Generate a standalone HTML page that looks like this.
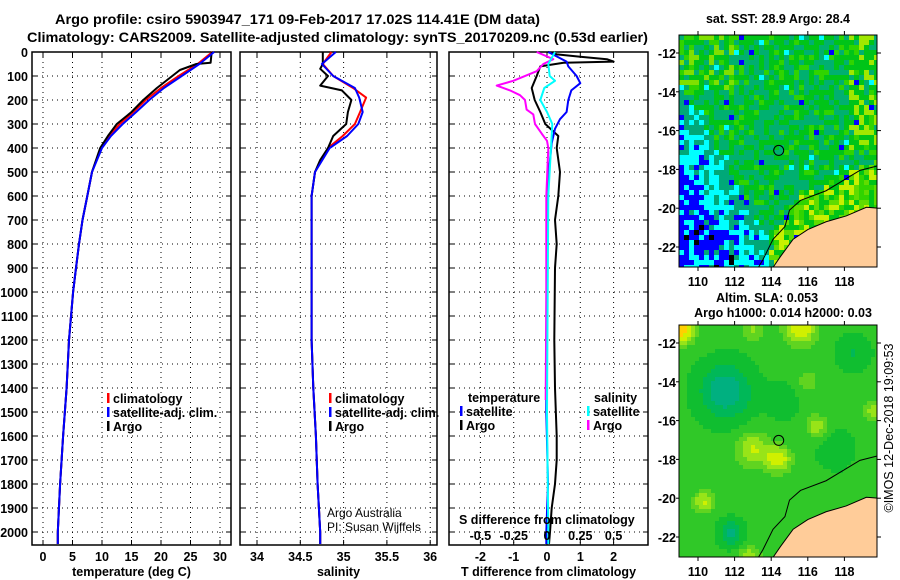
<!DOCTYPE html>
<html><head><meta charset="utf-8"><style>
html,body{margin:0;padding:0;background:#fff;}
svg{display:block;font-family:"Liberation Sans",Arial,sans-serif;}
.b{font-weight:bold;font-size:12.5px;fill:#000;}
</style></head><body>
<svg id="chart" width="900" height="580" viewBox="0 0 900 580" xmlns="http://www.w3.org/2000/svg">
<text x="55" y="24" class="b" style="font-size:14px" textLength="485" lengthAdjust="spacingAndGlyphs">Argo profile: csiro 5903947_171 09-Feb-2017 17.02S 114.41E (DM data)</text>
<text x="27" y="42" class="b" style="font-size:14px" textLength="621" lengthAdjust="spacingAndGlyphs">Climatology: CARS2009. Satellite-adjusted climatology: synTS_20170209.nc (0.53d earlier)</text>
<g id="maps"></g>
<g id="panels"></g>
</svg>
<script>
// ---------- data ----------
const depthArgoT = [0,20,45,50,75,150,200,250,300,350,400,500,600,700,800,900,1000,1200,1400,1600,1800,2000,2050];
const tempArgo   = [28.6,28.5,28.4,26,23.2,19.3,17,15,12.5,11,9.7,8.3,7.5,6.7,6.1,5.6,5.1,4.4,4.0,3.4,2.9,2.5,2.5];
const depthClimT = [0,50,100,150,200,250,300,350,400,500,600,700,800,900,1000,1200,1400,1600,1800,2000,2050];
const tempClim   = [28.7,26.2,23.0,20.0,17.4,15.3,13.0,11.2,9.8,8.3,7.5,6.7,6.1,5.6,5.1,4.4,4.0,3.4,2.9,2.5,2.5];
const tempSat    = [29.0,26.5,23.5,20.5,18.0,15.8,13.5,11.5,10.0,8.3,7.5,6.7,6.1,5.6,5.1,4.4,4.0,3.4,2.9,2.5,2.5];
const depthArgoS = [0,50,70,100,140,160,200,250,300,350,400,450,500,600,1200,1400,1600,1800,2000,2050];
const salArgo    = [34.76,34.76,34.73,34.82,34.73,34.98,35.09,35.05,35.03,34.88,34.82,34.73,34.67,34.63,34.63,34.65,34.68,34.70,34.73,34.73];
const depthClimS = [0,50,100,150,190,250,300,350,400,500,600,1200,1400,1600,1800,2000,2050];
const salClim    = [34.86,34.76,34.88,35.11,35.26,35.19,35.13,34.99,34.82,34.67,34.63,34.63,34.65,34.68,34.70,34.73,34.73];
const salSat     = [34.91,34.75,34.88,35.13,35.18,35.22,35.17,35.04,34.84,34.67,34.63,34.63,34.65,34.68,34.70,34.73,34.73];
const depthDT    = [0,10,20,30,40,45,60,100,150,200,250,300,350,400,500,600,700,800,900,1200,1400,1600,1700,1800,1900,2000,2050];
const dTArgo     = [0.03,0.3,1.0,1.8,2.0,0.5,-0.2,-0.31,-0.46,-0.37,-0.2,-0.05,0.34,0.29,0.39,0.34,0.24,0.29,0.24,0.22,0.24,0.29,0.29,0.24,0.14,0.09,0.06];
const depthDTs   = [0,40,60,100,130,160,200,250,280,320,380,450,500,600,1000,1500,1800,2000,2050];
const dTSat      = [0.04,0.59,0.64,0.89,1.0,0.73,0.64,0.59,0.39,0.24,0.14,0.09,0.04,0.01,0.0,-0.02,0.03,-0.02,-0.02];
const depthDS    = [0,30,50,80,120,140,160,180,200,240,260,300,340,370,400,600,1000,1450];
const dSArgo     = [-0.077,0.047,-0.028,-0.077,-0.253,-0.378,-0.278,-0.203,-0.165,-0.153,-0.103,-0.09,-0.04,0.0,0.01,-0.005,-0.005,-0.01];
const depthDSs   = [0,50,100,120,150,200,250,300,400,600,1000,1500,2000,2050];
const dSSat      = [0.06,0.01,0.02,0.06,-0.02,-0.05,0.0,0.04,0.03,0.01,0.005,0.0,0.01,0.01];
const depthTicks = [0,100,200,300,400,500,600,700,800,900,1000,1100,1200,1300,1400,1500,1600,1700,1800,1900,2000];
const tempTicks  = [0,5,10,15,20,25,30];
const salTicks   = [34,34.5,35,35.5,36];
const dTTicks    = [-2,-1,0,1,2];
const dSTicks    = [-0.5,-0.25,0,0.25,0.5];
const dSTickLabels = ['-0.5','-0.25','0','0.25','0.5'];
const lonTicks   = [110,112,114,116,118];
const latTicks   = [-12,-14,-16,-18,-20,-22];
const argoLon = 114.41, argoLat = -17.02;
const coastLon = [119.9,119.2,118.1,117.0,116.0,115.2,114.5,114.1,114.0];
const coastLat = [-20.0,-19.95,-20.4,-20.7,-21.1,-21.6,-22.5,-23.05,-23.2];
const isoLon = [119.9,118.85,117.0,115.6,115.0,114.75,114.1,113.55,113.3];
const isoLat = [-17.8,-18.05,-19.1,-19.6,-20.1,-20.95,-21.6,-22.65,-23.05];

// ---------- helpers ----------
const NS='http://www.w3.org/2000/svg';
function mk(tag,attrs,parent,text){const e=document.createElementNS(NS,tag);for(const k in attrs)e.setAttribute(k,attrs[k]);if(text!==undefined)e.textContent=text;parent.appendChild(e);return e;}
const panels=document.getElementById('panels');
const Y0=52, Y1=545;
const yD=d=>Y0+d*0.24;

function drawPanel(name,x0,x1,xs,ticks,labels,xtitle){
  const g=mk('g',{},panels);
  
  
  ticks.forEach(t=>{const x=xs(t);const l=mk('line',{x1:x,x2:x,y1:Y0,y2:Y1,stroke:'#000','stroke-width':1,'stroke-dasharray':'1,4'},g);
    
    
    mk('line',{x1:x,x2:x,y1:Y0,y2:Y0+5,stroke:'#000'},g);mk('line',{x1:x,x2:x,y1:Y1,y2:Y1-5,stroke:'#000'},g);});
  depthTicks.forEach(d=>{const y=yD(d);const l=mk('line',{x1:x0,x2:x1,y1:y,y2:y,stroke:'#000','stroke-width':1,'stroke-dasharray':'1,4'},g);
    
    
    mk('line',{x1:x0,x2:x0+5,y1:y,y2:y,stroke:'#000'},g);mk('line',{x1:x1,x2:x1-5,y1:y,y2:y,stroke:'#000'},g);});
  const r=mk('rect',{x:x0,y:Y0,width:x1-x0,height:Y1-Y0,fill:'none',stroke:'#000','stroke-width':1.5},g);
  
  
  ticks.forEach((t,i)=>{const tx=mk('text',{x:xs(t),y:561,'text-anchor':'middle',class:'b'},g,labels[i]);
    
    });
  const tt=mk('text',{x:(x0+x1)/2,y:576,'text-anchor':'middle',class:'b'},g,xtitle);
  
  
  return g;
}
function line(g,xs,vals,deps,color,name,w){
  const pts=vals.map((v,i)=>xs(v).toFixed(1)+','+yD(deps[i]).toFixed(1)).join(' ');
  const p=mk('polyline',{points:pts,fill:'none',stroke:color,'stroke-width':w||2,'stroke-linejoin':'round'},g);
  
  
}
function legend(g,x,y,color,label,name){
  const gg=mk('g',{},g);
  
  
  mk('rect',{x:x,y:y-10,width:2.5,height:10,fill:color},gg);
  mk('text',{x:x+6,y:y,class:'b'},gg,label);
}

depthTicks.forEach(d=>{const t=mk('text',{x:28,y:yD(d)+5,'text-anchor':'end',class:'b'},panels,String(d));
  
  });

const xT=t=>43+t*5.9;
const g1=drawPanel('temperature-panel',32,231,xT,tempTicks,tempTicks.map(String),'temperature (deg C)');
line(g1,xT,tempClim,depthClimT,'#ff0000','temperature-climatology-line');
line(g1,xT,tempArgo,depthArgoT,'#000000','temperature-argo-line');
line(g1,xT,tempSat,depthClimT,'#0000ff','temperature-satellite-line');
legend(g1,107,403,'#ff0000','climatology','legend-climatology');
legend(g1,107,417,'#0000ff','satellite-adj. clim.','legend-satellite-adj');
legend(g1,107,431,'#000000','Argo','legend-argo');

const xS=s=>257+(s-34)*86.6;
const g2=drawPanel('salinity-panel',240,437,xS,salTicks,['34','34.5','35','35.5','36'],'salinity');
line(g2,xS,salClim,depthClimS,'#ff0000','salinity-climatology-line');
line(g2,xS,salArgo,depthArgoS,'#000000','salinity-argo-line');
line(g2,xS,salSat,depthClimS,'#0000ff','salinity-satellite-line');
legend(g2,329,403,'#ff0000','climatology','legend-climatology');
legend(g2,329,417,'#0000ff','satellite-adj. clim.','legend-satellite-adj');
legend(g2,329,431,'#000000','Argo','legend-argo');
const a1=mk('text',{x:327,y:517,style:'font-size:12px'},g2,'Argo Australia');


const a2=mk('text',{x:327,y:531,style:'font-size:12px'},g2,'PI: Susan Wijffels');



const xDT=t=>547+t*33.3;
const xDS=s=>547+s*133.2;
const g3=drawPanel('difference-panel',449,648,xDT,dTTicks,dTTicks.map(String),'T difference from climatology');
line(g3,xDT,dTArgo,depthDT,'#000000','t-diff-argo-line');
line(g3,xDT,dTSat,depthDTs,'#0000ff','t-diff-satellite-line');
line(g3,xDS,dSArgo,depthDS,'#ff00ff','s-diff-argo-line');
line(g3,xDS,dSSat,depthDSs,'#00ffff','s-diff-satellite-line');
const th=mk('text',{x:468,y:402,class:'b'},g3,'temperature');


legend(g3,460,416,'#0000ff','satellite','legend-t-satellite');
legend(g3,460,430,'#000000','Argo','legend-t-argo');
const sh=mk('text',{x:594,y:402,class:'b'},g3,'salinity');


legend(g3,587,416,'#00ffff','satellite','legend-s-satellite');
legend(g3,587,430,'#ff00ff','Argo','legend-s-argo');
const st=mk('text',{x:459,y:524,class:'b'},g3,'S difference from climatology');


dSTicks.forEach((s,i)=>{const t=mk('text',{x:xDS(s),y:540,'text-anchor':'middle',class:'b'},g3,dSTickLabels[i]);
  
  });

// ---------- maps ----------
const maps=document.getElementById('maps');
function hash(i,j,s){let h=(i*374761393+j*668265263+s*982451653)|0;h=(h^(h>>>13))*1274126177|0;h=h^(h>>>16);return ((h>>>0)%10000)/10000;}
function interp(xs,ys,x){for(let i=0;i<xs.length-1;i++){if((x<=xs[i]&&x>=xs[i+1])||(x>=xs[i]&&x<=xs[i+1])){const t=(x-xs[i])/(xs[i+1]-xs[i]);return ys[i]+t*(ys[i+1]-ys[i]);}}return null;}
function coastLatAt(lon,lonsA,latsA){if(lon>=lonsA[0])return latsA[0];const v=interp(lonsA,latsA,lon);return v===null?-99:v;}
function drawMap(name,oy,fill,cs){
  const g=mk('g',{},maps);
  
  
  const L=679,R=877,T=35+oy,B=267+oy;
  const xl=lon=>698+(lon-110)*18.3, yl=lat=>53+oy+(-12-lat)*19.4;
  let html='';
  for(let j=0;j*cs<B-T;j++)for(let i=0;i*cs<R-L;i++){
    const px=L+i*cs,py=T+j*cs;
    const lon=110+(px+cs/2-698)/18.3, lat=-12-(py+cs/2-53-oy)/19.4;
    html+=`<rect x="${px}" y="${py}" width="${cs+0.3}" height="${cs+0.3}" fill="${fill(lon,lat,i,j)}"/>`;
  }
  const cg=mk('g',{},g);cg.innerHTML=html;
  
  
  let pts=coastLon.map((l,i)=>xl(l)+','+yl(coastLat[i])).join(' ');
  pts+=' '+(R+3)+','+(B+3)+' '+(R+3)+','+yl(-20.0);
  const land=mk('polygon',{points:pts,fill:'#ffcc99',stroke:'#000','stroke-width':1},g);
  
  
  const iso=mk('polyline',{points:isoLon.map((l,i)=>xl(l)+','+yl(isoLat[i])).join(' '),fill:'none',stroke:'#000','stroke-width':1},g);
  
  
  mk('rect',{x:R,y:T-3,width:20,height:B-T+10,fill:'#fff'},g);
  mk('rect',{x:L-2,y:B,width:R-L+25,height:6,fill:'#fff'},g);
  const c=mk('circle',{cx:xl(argoLon),cy:yl(argoLat),r:5,fill:'none',stroke:'#000','stroke-width':1},g);
  
  
  mk('rect',{x:L,y:T,width:R-L,height:B-T,fill:'none',stroke:'#000','stroke-width':1},g);
  lonTicks.forEach(l=>{mk('line',{x1:xl(l),x2:xl(l),y1:T,y2:T-4,stroke:'#000'},g);mk('line',{x1:xl(l),x2:xl(l),y1:B,y2:B+4,stroke:'#000'},g);
    const t=mk('text',{x:xl(l),y:B+19,'text-anchor':'middle',class:'b'},g,String(l));
    
    });
  latTicks.forEach(l=>{mk('line',{x1:L,x2:L-3,y1:yl(l),y2:yl(l),stroke:'#000'},g);mk('line',{x1:R,x2:R+4,y1:yl(l),y2:yl(l),stroke:'#000'},g);
    const t=mk('text',{x:676,y:yl(l)+5,'text-anchor':'end',class:'b'},g,String(l));
    
    });
}
function sstFill(lon,lat,i,j){
  const h=hash(i,j,1), h2=hash(i,j,7);
  const cold=(111.6-lon)*0.75+(-lat-17.0)*0.45;
  const isoL=coastLatAt(lon,isoLon,isoLat);
  if(lat<isoL+0.2 && lon>113.8 && h<0.5) return h<0.22?'#c8f000':'#60dc00';
  if(lat>-12.8&&lon>111.5&&lon<113.5&&h2<0.12) return h<0.5?'#00ffff':'#f0d000';
  if(cold>2.2){ if(h<0.6) return '#0000ff'; if(h<0.88) return '#00ffff'; if(h<0.96) return '#00a878'; return '#000000';}
  if(cold>1.1){ if(h<0.55) return '#00ffff'; if(h<0.75) return '#0000ff'; return '#00a878';}
  if(cold>0.4){ if(h<0.3) return '#00ffff'; if(h<0.36) return '#0000ff'; return '#00a878';}
  if(h2<0.02) return '#00ffff';
  if(h2>0.988) return '#0000ff';
  if(lon>118.3 && lat>-17 && h<0.3) return '#a0e800';
  if(lat>-14 && lon<112 && h<0.2) return '#80e000';
  return h<0.45?'#00b070':(h<0.88?'#00c418':'#30d400');
}
const blobs=[[111.5,-14.5,-0.7,1.3],[111.8,-21.8,-0.55,0.6],[113,-17.5,0.45,0.9],[114.4,-18,0.55,0.7],[116.5,-16.3,0.4,0.6],[110.3,-20.2,0.45,0.6],[109,-11.2,0.9,0.8],[115.6,-11.2,0.6,0.9],[113,-11.3,0.3,0.6],[116,-14,0.25,0.6],[119.6,-15.5,0.35,0.6],[112.8,-23.1,0.45,0.6],[117.5,-17.5,-0.15,1],[114.6,-15,-0.2,0.8],[118.5,-12.5,-0.25,0.8]];
function slaFill(lon,lat){
  let v=0.12;blobs.forEach(b=>{const d2=((lon-b[0])**2+(lat-b[1])**2)/(b[3]*b[3]);v+=b[2]*Math.exp(-d2);});
  if(v<-0.35) return '#00b080';
  if(v<-0.12) return '#00b858';
  if(v<0.08) return '#10be30';
  if(v<0.25) return '#30c828';
  if(v<0.4) return '#60d420';
  if(v<0.55) return '#98e418';
  if(v<0.75) return '#d0f000';
  return '#ffd000';
}
drawMap('sst-map',0,sstFill,5);
drawMap('sla-map',290,slaFill,4);
const m1=mk('text',{x:778,y:23,'text-anchor':'middle',class:'b'},maps,'sat. SST: 28.9 Argo: 28.4');


const m2=mk('text',{x:767,y:302,'text-anchor':'middle',class:'b'},maps,'Altim. SLA: 0.053');


const m3=mk('text',{x:783,y:317,'text-anchor':'middle',class:'b'},maps,'Argo h1000: 0.014 h2000: 0.03');


const cr=mk('text',{x:0,y:0,'text-anchor':'middle',style:'font-size:12.5px',transform:'translate(893,428) rotate(-90)'},maps,'©IMOS 12-Dec-2018 19:09:53');


</script>
</body></html>
